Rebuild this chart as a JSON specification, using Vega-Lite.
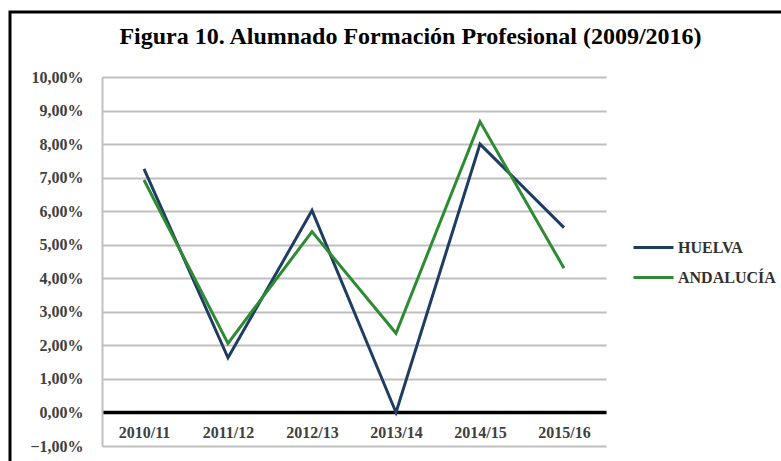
{
  "$schema": "https://vega.github.io/schema/vega-lite/v6.json",
  "width": 775,
  "height": 453,
  "autosize": {"type": "none"},
  "padding": {"left": 10, "top": 12, "right": -4, "bottom": -4},
  "background": "white",
  "title": {
    "text": "Figura 10. Alumnado Formación Profesional (2009/2016)",
    "font": "Liberation Serif",
    "fontSize": 24,
    "fontWeight": "bold",
    "color": "#000000",
    "anchor": "middle",
    "frame": "group",
    "baseline": "alphabetic",
    "dx": 13,
    "offset": -56
  },
  "config": {
    "locale": {"number": {"decimal": ",", "thousands": ".", "grouping": [3], "currency": ["", " €"]}},
    "view": {"stroke": "#000000", "strokeWidth": 3},
    "axis": {
      "labelFont": "Liberation Serif",
      "labelFontWeight": "bold",
      "labelFontSize": 16,
      "labelColor": "#404040",
      "ticks": false,
      "title": null
    }
  },
  "data": {
    "values": [
      {"curso": "2010/11", "serie": "HUELVA", "valor": 0.0726},
      {"curso": "2011/12", "serie": "HUELVA", "valor": 0.0163},
      {"curso": "2012/13", "serie": "HUELVA", "valor": 0.0602},
      {"curso": "2013/14", "serie": "HUELVA", "valor": 0.0000},
      {"curso": "2014/15", "serie": "HUELVA", "valor": 0.0800},
      {"curso": "2015/16", "serie": "HUELVA", "valor": 0.0551},
      {"curso": "2010/11", "serie": "ANDALUCÍA", "valor": 0.0693},
      {"curso": "2011/12", "serie": "ANDALUCÍA", "valor": 0.0206},
      {"curso": "2012/13", "serie": "ANDALUCÍA", "valor": 0.0539},
      {"curso": "2013/14", "serie": "ANDALUCÍA", "valor": 0.0236},
      {"curso": "2014/15", "serie": "ANDALUCÍA", "valor": 0.0867},
      {"curso": "2015/16", "serie": "ANDALUCÍA", "valor": 0.0430}
    ]
  },
  "mark": {"type": "line", "strokeWidth": 3},
  "encoding": {
    "x": {
      "field": "curso",
      "type": "nominal",
      "sort": null,
      "scale": {"type": "point", "padding": 0.5, "range": [92, 596]},
      "axis": {
        "orient": "bottom",
        "offset": -53,
        "domain": true,
        "domainColor": "#000000",
        "domainWidth": 3.5,
        "grid": false,
        "labelAngle": 0,
        "labelBaseline": "middle",
        "labelPadding": 20
      }
    },
    "y": {
      "field": "valor",
      "type": "quantitative",
      "scale": {"domain": [-0.01, 0.10], "nice": false, "zero": false, "range": [434, 65]},
      "axis": {
        "orient": "left",
        "offset": -92,
        "values": [-0.01, 0, 0.01, 0.02, 0.03, 0.04, 0.05, 0.06, 0.07, 0.08, 0.09, 0.10],
        "format": ".2%",
        "grid": true,
        "gridColor": "#BFBFBF",
        "gridWidth": 2,
        "domain": true,
        "domainColor": "#BFBFBF",
        "domainWidth": 2,
        "labelPadding": 19
      }
    },
    "color": {
      "field": "serie",
      "type": "nominal",
      "sort": null,
      "scale": {"domain": ["HUELVA", "ANDALUCÍA"], "range": ["#1F3D63", "#2E8B34"]},
      "legend": {
        "title": null,
        "orient": "none",
        "legendX": 622,
        "legendY": 214,
        "symbolType": "stroke",
        "symbolSize": 1600,
        "symbolStrokeWidth": 3,
        "labelFont": "Liberation Serif",
        "labelFontWeight": "bold",
        "labelFontSize": 16,
        "labelColor": "#303030",
        "labelOffset": 3,
        "rowPadding": -6
      }
    }
  }
}
